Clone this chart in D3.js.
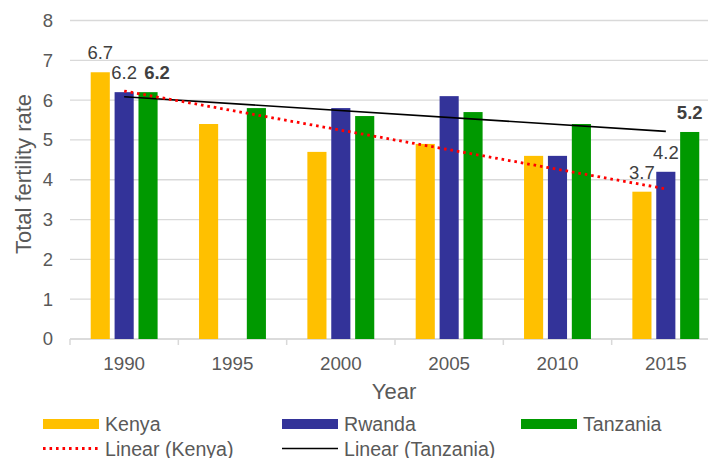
<!DOCTYPE html>
<html>
<head>
<meta charset="utf-8">
<script src="https://cdn.jsdelivr.net/npm/d3@7"></script>
<style>
  body { margin: 0; background: #fff; }
  svg { display: block; font-family: "Liberation Sans", Arial, sans-serif; }
</style>
</head>
<body>
<div id="chart"></div>
<script>
/* data */
const years = ['1990', '1995', '2000', '2005', '2010', '2015']
const kenya = [6.7, 5.4, 4.7, 4.9, 4.6, 3.7]
const rwanda = [6.2, null, 5.8, 6.1, 4.6, 4.2]
const tanzania = [6.2, 5.8, 5.6, 5.7, 5.4, 5.2]
const yTicks = [0, 1, 2, 3, 4, 5, 6, 7, 8]

const series = [
  { name: 'Kenya', values: kenya, color: '#FFC000' },
  { name: 'Rwanda', values: rwanda, color: '#333399' },
  { name: 'Tanzania', values: tanzania, color: '#009900' }
]

/* labels shown in the picture: [series index, year index, bold] */
const shownLabels = [[0, 0, false], [1, 0, false], [2, 0, true], [0, 5, false], [1, 5, false], [2, 5, true]]

const w = 708, h = 458

const svg = d3.select('#chart').append('svg')
  .attr('width', w).attr('height', h)

/* scales */
const x = d3.scaleBand().domain(years).range([70, 720])
const xs = d3.scaleBand().domain(series.map(s => s.name))
  .range([20.7, 108.3 - 20.7]).paddingInner(0.2)
const y = d3.scaleLinear().domain([0, 8]).range([339, 20.5])

/* gridlines */
svg.append('g').selectAll('line')
  .data(yTicks)
  .join('line')
  .attr('x1', 70).attr('x2', w)
  .attr('y1', d => y(d)).attr('y2', d => y(d))
  .attr('stroke', '#D9D9D9').attr('stroke-width', 1.3)

/* y axis labels */
svg.append('g').selectAll('text')
  .data(yTicks)
  .join('text')
  .attr('x', 53).attr('y', d => y(d)).attr('dy', '0.35em')
  .attr('text-anchor', 'end')
  .attr('font-size', 18.5).attr('fill', '#595959')
  .text(d => d)

/* x axis */
const xAxis = svg.append('g')
  .attr('transform', `translate(0,${y(0)})`)
xAxis.append('line').attr('x1', 70).attr('x2', w).attr('stroke', '#D9D9D9').attr('stroke-width', 1.5)
xAxis.selectAll('.tk')
  .data(years)
  .join('line')
  .attr('class', 'tk')
  .attr('x1', d => x(d)).attr('x2', d => x(d))
  .attr('y1', 0).attr('y2', 6)
  .attr('stroke', '#D9D9D9').attr('stroke-width', 1.5)
xAxis.selectAll('text')
  .data(years)
  .join('text')
  .attr('x', d => x(d) + x.bandwidth() / 2)
  .attr('y', 31)
  .attr('text-anchor', 'middle')
  .attr('font-size', 18.8).attr('fill', '#595959')
  .text(d => d)

/* axis titles */
svg.append('text')
  .attr('x', 394).attr('y', 399)
  .attr('text-anchor', 'middle')
  .attr('font-size', 22).attr('fill', '#595959')
  .text('Year')

svg.append('text')
  .attr('transform', 'translate(31,174) rotate(-90)')
  .attr('text-anchor', 'middle')
  .attr('font-size', 22).attr('fill', '#595959')
  .text('Total fertility rate')

/* bars */
svg.append('g').selectAll('g')
  .data(series)
  .join('g')
  .attr('fill', s => s.color)
  .selectAll('rect')
  .data(s => s.values.map((v, i) => ({ name: s.name, year: years[i], v })).filter(d => d.v != null))
  .join('rect')
  .attr('x', d => x(d.year) + xs(d.name))
  .attr('width', xs.bandwidth())
  .attr('y', d => y(d.v))
  .attr('height', d => y(0) - y(d.v))

/* linear trend lines (least squares on the data) */
function fit(values) {
  const n = values.length
  const mx = d3.mean(values, (v, i) => i)
  const my = d3.mean(values)
  let sxy = 0, sxx = 0
  values.forEach((v, i) => { sxy += (i - mx) * (v - my); sxx += (i - mx) * (i - mx) })
  const b = sxy / sxx
  const a = my - b * mx
  return [0, n - 1].map(i => [x(years[i]) + x.bandwidth() / 2, y(a + b * i)])
}

const line = d3.line()

svg.append('path')
  .attr('d', line(fit(tanzania)))
  .attr('fill', 'none').attr('stroke', '#000').attr('stroke-width', 1.6)

svg.append('path')
  .attr('d', line(fit(kenya)))
  .attr('fill', 'none').attr('stroke', '#FF0000').attr('stroke-width', 2.8)
  .attr('stroke-dasharray', '2.6 3.9')

/* data labels */
svg.append('g').selectAll('text')
  .data(shownLabels)
  .join('text')
  .attr('x', d => x(years[d[1]]) + xs(series[d[0]].name) + xs.bandwidth() / 2 + (d[2] && d[1] === 0 ? 9 : 0))
  .attr('y', d => y(series[d[0]].values[d[1]]) - 13)
  .attr('text-anchor', 'middle')
  .attr('font-size', 18.5)
  .attr('font-weight', d => d[2] ? 'bold' : 'normal')
  .attr('fill', '#404040')
  .text(d => series[d[0]].values[d[1]].toFixed(1))

/* legend */
const legendItems = [
  { label: 'Kenya', type: 'rect', color: '#FFC000', col: 0, row: 0 },
  { label: 'Rwanda', type: 'rect', color: '#333399', col: 1, row: 0 },
  { label: 'Tanzania', type: 'rect', color: '#009900', col: 2, row: 0 },
  { label: 'Linear (Kenya)', type: 'dots', color: '#FF0000', col: 0, row: 1 },
  { label: 'Linear (Tanzania)', type: 'line', color: '#000', col: 1, row: 1 }
]

const legend = svg.append('g')
  .selectAll('g')
  .data(legendItems)
  .join('g')
  .attr('transform', d => `translate(${43 + d.col * 239},${424 + d.row * 24.5})`)

legend.filter(d => d.type === 'rect').append('rect')
  .attr('x', 0).attr('y', -5).attr('width', 56).attr('height', 10)
  .attr('fill', d => d.color)
legend.filter(d => d.type === 'dots').append('line')
  .attr('x1', 0).attr('x2', 56)
  .attr('stroke', d => d.color).attr('stroke-width', 2.8)
  .attr('stroke-dasharray', '2.6 3.9')
legend.filter(d => d.type === 'line').append('line')
  .attr('x1', 0).attr('x2', 56)
  .attr('stroke', d => d.color).attr('stroke-width', 1.6)

legend.append('text')
  .attr('x', 62).attr('y', 0).attr('dy', '0.36em')
  .attr('font-size', 19.6).attr('fill', '#595959')
  .text(d => d.label)
</script>
</body>
</html>
